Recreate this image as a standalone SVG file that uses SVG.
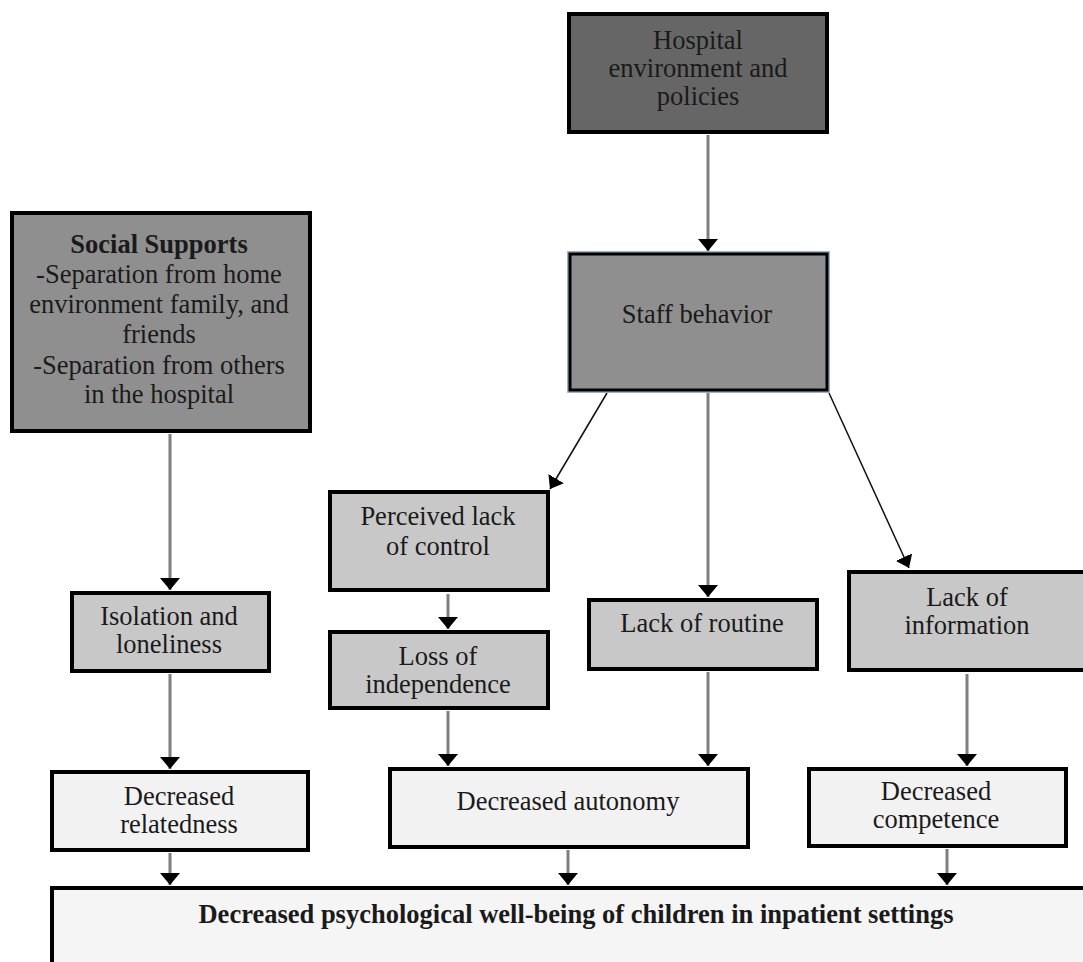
<svg xmlns="http://www.w3.org/2000/svg" width="1083" height="962" viewBox="0 0 1083 962">
<style>
text{font-family:'Liberation Serif','Times New Roman',serif;font-size:26.5px;fill:#1a1a1a;text-anchor:middle}
.b{font-weight:bold}
.box{stroke:#000;stroke-width:4}
.dark{fill:#666}
.mid{fill:#8f8f8f}
.light{fill:#c8c8c8}
.pale{fill:#f2f2f2}
.gl{stroke:#7f7f7f;stroke-width:3;fill:none}
.tl{stroke:#111;stroke-width:1.5;fill:none}
</style>
<defs>
<marker id="ah" viewBox="0 0 12 20" refX="12" refY="10" markerWidth="12" markerHeight="20" markerUnits="userSpaceOnUse" orient="auto">
<path d="M0,0 L12,10 L0,20 z" fill="#000"/>
</marker>
<marker id="ahs" viewBox="0 0 12 18" refX="12" refY="9" markerWidth="12" markerHeight="18" markerUnits="userSpaceOnUse" orient="auto">
<path d="M0,0 L12,9 L0,18 z" fill="#000"/>
</marker>
</defs>
<rect width="1083" height="962" fill="#fff"/>
<g id="connectors">
<line class="gl" x1="708" y1="135" x2="708" y2="251" marker-end="url(#ah)"/>
<line class="tl" x1="607" y1="393" x2="550" y2="489" marker-end="url(#ahs)"/>
<line class="gl" x1="708" y1="393" x2="708" y2="597" marker-end="url(#ah)"/>
<line class="tl" x1="829" y1="393" x2="909" y2="568" marker-end="url(#ahs)"/>
<line class="gl" x1="170" y1="434" x2="170" y2="590" marker-end="url(#ah)"/>
<line class="gl" x1="448" y1="594" x2="448" y2="629" marker-end="url(#ah)"/>
<line class="gl" x1="170" y1="674" x2="170" y2="769" marker-end="url(#ah)"/>
<line class="gl" x1="448" y1="711" x2="448" y2="766" marker-end="url(#ah)"/>
<line class="gl" x1="708" y1="672" x2="708" y2="766" marker-end="url(#ah)"/>
<line class="gl" x1="967" y1="674" x2="967" y2="766" marker-end="url(#ah)"/>
<line class="gl" x1="170" y1="853" x2="170" y2="885" marker-end="url(#ah)"/>
<line class="gl" x1="568" y1="850" x2="568" y2="885" marker-end="url(#ah)"/>
<line class="gl" x1="947" y1="849" x2="947" y2="885" marker-end="url(#ah)"/>
</g>
<g id="hospital">
<rect class="box dark" x="569" y="14" width="258" height="118"/>
<text x="698" y="49">Hospital</text>
<text x="698" y="77">environment and</text>
<text x="698" y="105">policies</text>
</g>
<g id="staff">
<rect x="568" y="252" width="261" height="140" fill="none" stroke="#7d96bb" stroke-width="1.5"/>
<rect x="570" y="254" width="257" height="136" class="mid" stroke="#000" stroke-width="3"/>
<text x="697" y="323">Staff behavior</text>
</g>
<g id="social">
<rect class="box mid" x="12" y="213" width="298" height="218"/>
<text class="b" x="159" y="253">Social Supports</text>
<text x="159" y="283">-Separation from home</text>
<text x="159" y="313">environment family, and</text>
<text x="159" y="343">friends</text>
<text x="159" y="374">-Separation from others</text>
<text x="159" y="403">in the hospital</text>
</g>
<g id="perceived">
<rect class="box light" x="330" y="492" width="218" height="98"/>
<text x="438" y="525">Perceived lack</text>
<text x="438" y="555">of control</text>
</g>
<g id="loss">
<rect class="box light" x="330" y="632" width="218" height="76"/>
<text x="438" y="665">Loss of</text>
<text x="438" y="693">independence</text>
</g>
<g id="routine">
<rect class="box light" x="589" y="600" width="228" height="69"/>
<text x="702" y="632">Lack of routine</text>
</g>
<g id="information">
<rect class="box light" x="849" y="572" width="240" height="98"/>
<text x="967" y="606">Lack of</text>
<text x="967" y="634">information</text>
</g>
<g id="isolation">
<rect class="box light" x="72" y="593" width="197" height="78"/>
<text x="169" y="625">Isolation and</text>
<text x="169" y="653">loneliness</text>
</g>
<g id="relatedness">
<rect class="box pale" x="52" y="772" width="256" height="78"/>
<text x="179" y="805">Decreased</text>
<text x="179" y="833">relatedness</text>
</g>
<g id="autonomy">
<rect class="box pale" x="390" y="769" width="358" height="78"/>
<text x="568" y="810">Decreased autonomy</text>
</g>
<g id="competence">
<rect class="box pale" x="809" y="769" width="257" height="77"/>
<text x="936" y="800">Decreased</text>
<text x="936" y="828">competence</text>
</g>
<g id="wellbeing">
<rect class="box" x="52" y="888" width="1040" height="90" fill="#f5f5f5"/>
<text class="b" x="576" y="923" font-size="23.3">Decreased psychological well-being of children in inpatient settings</text>
</g>
</svg>
